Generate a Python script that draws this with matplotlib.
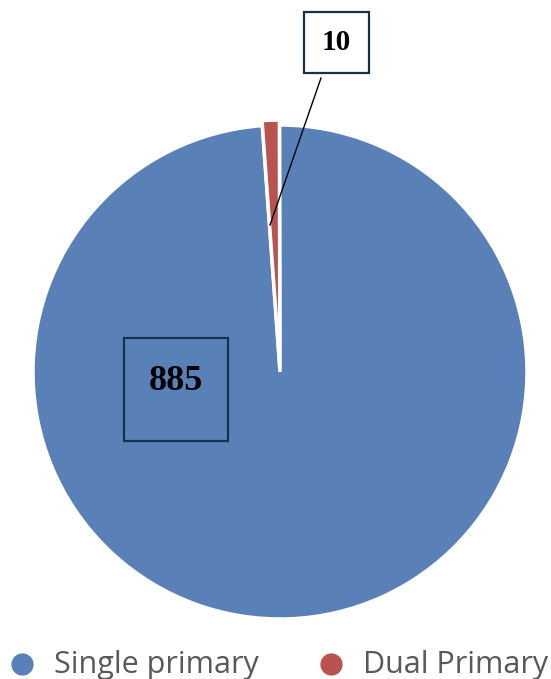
import matplotlib
matplotlib.use("Agg")
import matplotlib.pyplot as plt
from matplotlib.patches import Rectangle
from matplotlib.lines import Line2D

categories = ["Single primary", "Dual Primary"]
values = [885, 10]
colors = ["#5a80b8", "#b9534f"]

W, H = 551, 679
fig = plt.figure(figsize=(W / 100, H / 100), dpi=100)

cx, cy, r = 280, 372, 247
ax = fig.add_axes([(cx - r) / W, 1 - (cy + r) / H, 2 * r / W, 2 * r / H])
wedges, _ = ax.pie(values, colors=colors, startangle=90.1, counterclock=False,
                   explode=[0, 0.02],
                   wedgeprops=dict(edgecolor="white", linewidth=2.5))
ax.set_xlim(-1, 1)
ax.set_ylim(-1, 1)
ax.set_aspect("equal")

def fx(x):
    return x / W

def fy(y):
    return 1 - y / H

# 885 label box
fig.patches.append(Rectangle((fx(124), fy(441)), fx(228) - fx(124), fy(338) - fy(441),
                             transform=fig.transFigure, fill=False,
                             edgecolor="#14324a", linewidth=1.6))
fig.text(fx(176), fy(382), str(values[0]), ha="center", va="center",
         fontsize=26, fontweight="bold", family="Liberation Serif", color="black")

# 10 label box
fig.patches.append(Rectangle((fx(304), fy(73)), fx(369) - fx(304), fy(12) - fy(73),
                             transform=fig.transFigure, facecolor="white",
                             edgecolor="#14324a", linewidth=1.6))
fig.text(fx(336.5), fy(43), str(values[1]), ha="center", va="center",
         fontsize=21, fontweight="bold", family="Liberation Serif", color="black")
fig.add_artist(Line2D([fx(321), fx(270)], [fy(78), fy(225)],
                      transform=fig.transFigure, color="black", linewidth=1.0))

# legend
marker_x = [22, 331]
text_x = [54, 363]
for cat, col, mx, tx in zip(categories, colors, marker_x, text_x):
    fig.add_artist(Line2D([fx(mx)], [fy(664)], transform=fig.transFigure,
                          marker="o", markersize=15, color=col, linestyle="none"))
    fig.text(fx(tx), fy(673), cat, ha="left", va="baseline", fontsize=22,
             family="Open Sans", color="#595959")

fig.savefig("out.png", dpi=100)
